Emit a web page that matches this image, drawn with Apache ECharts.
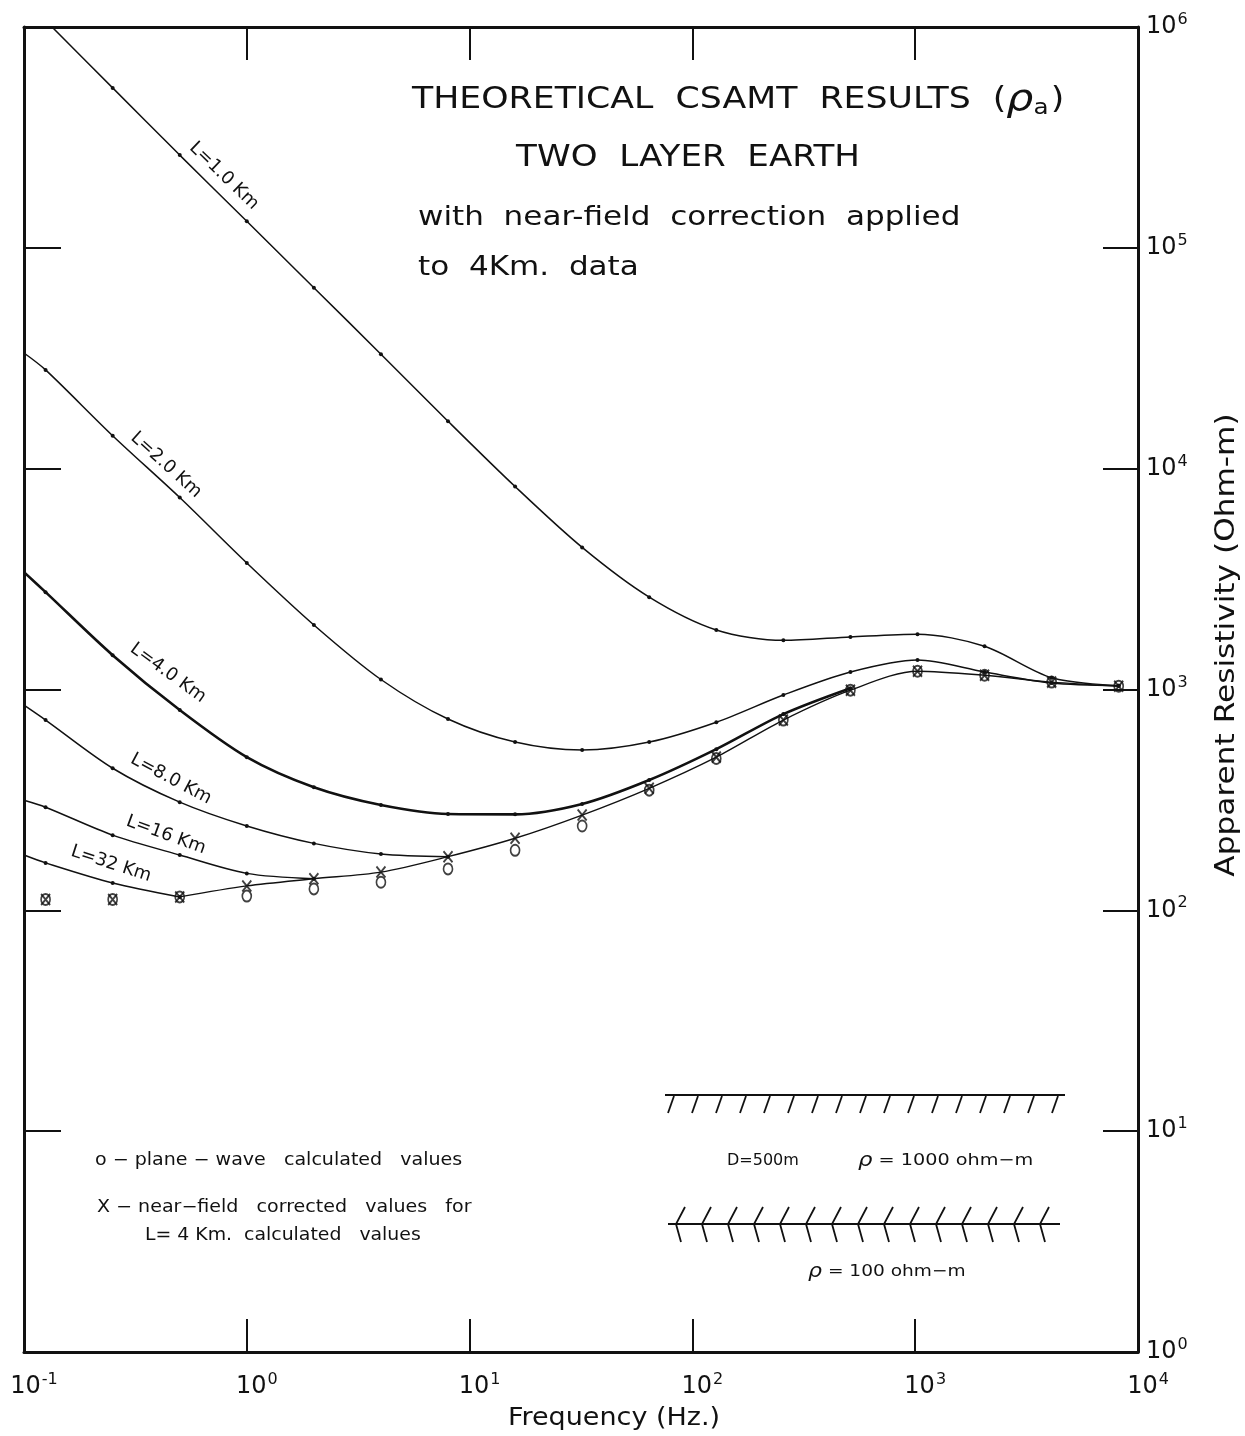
<!DOCTYPE html>
<html><head><meta charset="utf-8">
<script src="https://cdn.jsdelivr.net/npm/echarts@6/dist/echarts.min.js"></script>
<style>html,body{margin:0;padding:0;background:#fff;overflow:hidden}#c{width:1245px;height:1436px}</style>
</head><body><div id="c"></div>
<script>
// ---- data ----
const freqHz = [0.1, 0.125, 0.25, 0.5, 1, 2, 4, 8, 16, 32, 64, 128, 256, 512, 1024, 2048, 4096, 8192];
const rhoL1 = [null, 1.07e6, 5.3e5, 2.63e5, 1.32e5, 6.6e4, 3.3e4, 1.64e4, 8.3e3, 4.4e3, 2.62e3, 1.86e3, 1.67e3, 1.73e3, 1.78e3, 1.57e3, 1.13e3, 1.04e3];
const rhoL2 = [3.34e4, 2.8e4, 1.41e4, 7.4e3, 3.74e3, 1.96e3, 1.11e3, 735, 578, 532, 578, 711, 944, 1200, 1360, 1200, 1070, 1040];
const rhoL4 = [3.4e3, 2.76e3, 1.43e3, 807, 494, 361, 300, 273, 272, 303, 389, 537, 774, 1014, null, null, null, null];
const rhoL8 = [849, 727, 440, 309, 241, 201, 180, 175, null, null, null, null, null, null, null, null, null, null];
const rhoL16 = [315, 293, 219, 178, 147, 139, null, null, null, null, null, null, null, null, null, null, null, null];
const rhoL32 = [178, 164, 133, 115, null, null, null, null, null, null, null, null, null, null, null, null, null, null];
const rhoPlaneWave = [null, 112, 112, 115, 116, 125, 134, 154, 187, 241, 350, 487, 727, 993, 1210, 1160, 1080, 1035];
const rhoNearField = [null, 112, 112, 115, 129, 139, 149, 175, 212, 270, 357, 494, 727, 993, 1210, 1160, 1080, 1035];
const curveStartIndex = 3; // corrected curve drawn from 0.5 Hz on
const xTickLabels = ['10^-1', '10^0', '10^1', '10^2', '10^3', '10^4'];
const yTickLabels = ['10^0', '10^1', '10^2', '10^3', '10^4', '10^5', '10^6'];

const FF = '"DejaVu Sans", sans-serif';
const INK = '#111';

function pts(arr, startIdx) {
  const out = [];
  arr.forEach((v, i) => {
    if (v == null || (startIdx != null && i < startIdx)) return;
    if (freqHz[i] === 0.1) out.push({ value: [freqHz[i], v], symbolSize: 0 });
    else out.push([freqHz[i], v]);
  });
  return out;
}
function powLabel(v) {
  const e = Math.round(Math.log10(v));
  return '{b|10}{s|' + e + '}';
}
const labelRich = {
  b: { fontSize: 24, fontFamily: FF, color: INK },
  s: { fontSize: 16, fontFamily: FF, color: INK, padding: [0, 0, 14, 1] }
};

function curve(name, arr, width) {
  return {
    name, type: 'line', data: pts(arr), smooth: 0.3, clip: true,
    symbol: 'circle', symbolSize: 4, itemStyle: { color: INK },
    lineStyle: { color: INK, width: width || 1.5 }, z: 3, silent: true
  };
}

const graphics = [];
function txt(x, y, text, size, opt) {
  graphics.push(Object.assign({
    type: 'text', x, y, silent: true,
    style: Object.assign({ text, fontSize: size, fontFamily: FF, fill: INK, align: 'left', verticalAlign: 'middle' }, (opt && opt.style) || {})
  }, (opt && opt.el) || {}));
}
const richRho = { n: { fontSize: 16, fontFamily: FF, fill: INK }, r: { fontSize: 19, fontFamily: FF, fontStyle: 'italic', fill: INK } };

// title block
graphics.push({
  type: 'text', x: 412, y: 100, scaleX: 1.12, silent: true,
  style: {
    text: '{t|THEORETICAL  CSAMT  RESULTS  (}{r|ρ}{a|a}{t|)}', align: 'left', verticalAlign: 'middle',
    rich: {
      t: { fontSize: 31, fontFamily: FF, fill: INK },
      r: { fontSize: 38, fontFamily: FF, fontStyle: 'italic', fill: INK },
      a: { fontSize: 22, fontFamily: FF, fill: INK, padding: [16, 2, 0, 0] }
    }
  }
});
txt(688, 158, 'TWO  LAYER  EARTH', 31, { style: { align: 'center' }, el: { scaleX: 1.1 } });
txt(418, 218, 'with  near-field  correction  applied', 27, { el: { scaleX: 1.15 } });
txt(418, 268, 'to  4Km.  data', 27, { el: { scaleX: 1.15 } });

// curve labels
const deg = d => d * Math.PI / 180;
txt(224, 176, 'L=1.0 Km', 18, { style: { align: 'center' }, el: { rotation: deg(-44) } });
txt(166, 465, 'L=2.0 Km', 18, { style: { align: 'center' }, el: { rotation: deg(-42) } });
txt(168, 673, 'L=4.0 Km', 18, { style: { align: 'center' }, el: { rotation: deg(-36) } });
txt(171, 779, 'L=8.0 Km', 18, { style: { align: 'center' }, el: { rotation: deg(-28) } });
txt(166, 835, 'L=16 Km', 18, { style: { align: 'center' }, el: { rotation: deg(-20) } });
txt(111, 864, 'L=32 Km', 18, { style: { align: 'center' }, el: { rotation: deg(-18) } });

// legend notes
txt(95, 1161, 'o − plane − wave   calculated   values', 17, { el: { scaleX: 1.12 } });
txt(97, 1208, 'X − near−field   corrected   values   for', 17, { el: { scaleX: 1.12 } });
txt(145, 1236, 'L= 4 Km.  calculated   values', 17, { el: { scaleX: 1.11 } });

// axis titles
txt(614, 1418, 'Frequency (Hz.)', 25, { style: { align: 'center' }, el: { scaleX: 1.08 } });
txt(1227, 645, 'Apparent Resistivity (Ohm-m)', 26, { style: { align: 'center' }, el: { rotation: deg(90), scaleX: 1.2 } });

// layer diagram
graphics.push({ type: 'line', silent: true, shape: { x1: 665, y1: 1095, x2: 1065, y2: 1095 }, style: { stroke: INK, lineWidth: 2 } });
for (let i = 0; i < 17; i++) {
  const x0 = 668 + i * 24;
  graphics.push({ type: 'line', silent: true, shape: { x1: x0 + 6, y1: 1096, x2: x0, y2: 1113 }, style: { stroke: INK, lineWidth: 1.8 } });
}
graphics.push({ type: 'line', silent: true, shape: { x1: 668, y1: 1224, x2: 1060, y2: 1224 }, style: { stroke: INK, lineWidth: 2 } });
for (let i = 0; i < 15; i++) {
  const x0 = 676 + i * 26;
  graphics.push({ type: 'polyline', silent: true, shape: { points: [[x0 + 9, 1207], [x0, 1224], [x0 + 5, 1242]] }, style: { stroke: INK, lineWidth: 1.8, fill: null } });
}
txt(727, 1161, 'D=500m', 16);
graphics.push({
  type: 'text', x: 858, y: 1161, scaleX: 1.2, silent: true,
  style: { text: '{r|ρ}{n| = 1000 ohm−m}', verticalAlign: 'middle', rich: richRho }
});
graphics.push({
  type: 'text', x: 808, y: 1272, scaleX: 1.16, silent: true,
  style: { text: '{r|ρ}{n| = 100 ohm−m}', verticalAlign: 'middle', rich: richRho }
});

const tickStyle = { color: INK, width: 2 };
const lineStyle = { color: INK, width: 3 };
const xBase = { type: 'log', logBase: 10, min: 0.1, max: 10000, splitLine: { show: false }, minorTick: { show: false } };
const yBase = { type: 'log', logBase: 10, min: 1, max: 1e6, splitLine: { show: false }, minorTick: { show: false } };

const chart = echarts.init(document.getElementById('c'), null, { renderer: 'canvas' });
chart.setOption({
  backgroundColor: '#fff',
  animation: false,
  grid: { left: 24, right: 107, top: 27, bottom: 84, containLabel: false },
  xAxis: [
    Object.assign({}, xBase, {
      position: 'bottom',
      axisLine: { lineStyle }, axisTick: { inside: true, length: 33, lineStyle: tickStyle },
      axisLabel: { margin: 20, padding: [0, 0, 0, 20], formatter: powLabel, rich: labelRich, color: INK, showMinLabel: true, showMaxLabel: true }
    }),
    Object.assign({}, xBase, {
      position: 'top',
      axisLine: { lineStyle }, axisTick: { inside: true, length: 33, lineStyle: tickStyle },
      axisLabel: { show: false }
    })
  ],
  yAxis: [
    Object.assign({}, yBase, {
      position: 'right',
      axisLine: { lineStyle }, axisTick: { inside: true, length: 35, lineStyle: tickStyle },
      axisLabel: { margin: 8, formatter: powLabel, rich: labelRich, color: INK, showMinLabel: true, showMaxLabel: true }
    }),
    Object.assign({}, yBase, {
      position: 'left',
      axisLine: { lineStyle }, axisTick: { inside: true, length: 37, lineStyle: tickStyle },
      axisLabel: { show: false }
    })
  ],
  series: [
    curve('L=1.0 Km', rhoL1),
    curve('L=2.0 Km', rhoL2),
    curve('L=4.0 Km', rhoL4, 2.6),
    curve('L=8.0 Km', rhoL8),
    curve('L=16 Km', rhoL16),
    curve('L=32 Km', rhoL32),
    {
      name: 'near-field corrected curve', type: 'line', data: pts(rhoNearField, curveStartIndex), smooth: 0.3,
      symbol: 'none', lineStyle: { color: INK, width: 1.4 }, z: 3, silent: true
    },
    {
      name: 'plane-wave calculated values', type: 'scatter', data: pts(rhoPlaneWave),
      symbol: 'circle', symbolSize: [9, 11], itemStyle: { color: 'rgba(255,255,255,0)', borderColor: INK, borderWidth: 1.8 }, z: 4, silent: true
    },
    {
      name: 'near-field corrected values (L=4 Km)', type: 'scatter', data: pts(rhoNearField),
      symbol: 'path://M0 0L10 12M10 0L0 12', symbolSize: [9, 11],
      itemStyle: { color: 'rgba(0,0,0,0)', borderColor: INK, borderWidth: 2 }, z: 5, silent: true
    }
  ],
  graphic: graphics
});
</script>
</body></html>
